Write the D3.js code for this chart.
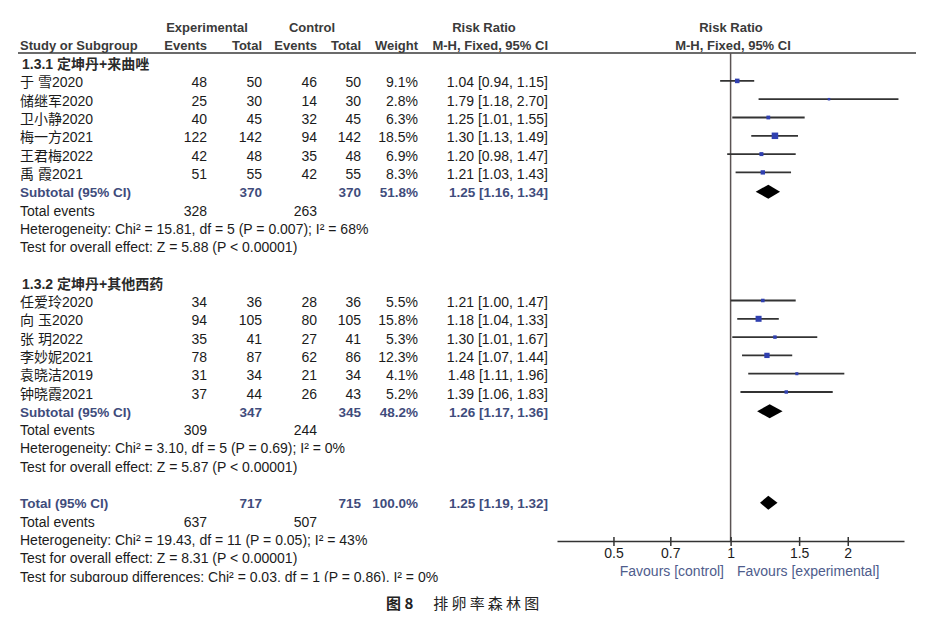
<!DOCTYPE html>
<html>
<head>
<meta charset="utf-8">
<script src="https://cdn.jsdelivr.net/npm/d3@7"></script>
<style>
  body { margin: 0; background: #fff; }
  svg { display: block; font-family: "Liberation Sans", Arial, "Noto Sans CJK SC", sans-serif; }
</style>
</head>
<body>
<div id="vis"></div>
<script>
const FRAME_WIDTH = 928;
const FRAME_HEIGHT = 622;

// group 1: 定坤丹+来曲唑
const G1_NAMES = ["于 雪2020", "储继军2020", "卫小静2020", "梅一方2021", "王君梅2022", "禹 霞2021"];
const G1_EXP_EVENTS = [48, 25, 40, 122, 42, 51];
const G1_EXP_TOTAL = [50, 30, 45, 142, 48, 55];
const G1_CTL_EVENTS = [46, 14, 32, 94, 35, 42];
const G1_CTL_TOTAL = [50, 30, 45, 142, 48, 55];
const G1_WEIGHT = [9.1, 2.8, 6.3, 18.5, 6.9, 8.3];
const G1_RR = [1.04, 1.79, 1.25, 1.30, 1.20, 1.21];
const G1_LO = [0.94, 1.18, 1.01, 1.13, 0.98, 1.03];
const G1_HI = [1.15, 2.70, 1.55, 1.49, 1.47, 1.43];

// group 2: 定坤丹+其他西药
const G2_NAMES = ["任爱玲2020", "向 玉2020", "张 玥2022", "李妙妮2021", "袁晓洁2019", "钟晓霞2021"];
const G2_EXP_EVENTS = [34, 94, 35, 78, 31, 37];
const G2_EXP_TOTAL = [36, 105, 41, 87, 34, 44];
const G2_CTL_EVENTS = [28, 80, 27, 62, 21, 26];
const G2_CTL_TOTAL = [36, 105, 41, 86, 34, 43];
const G2_WEIGHT = [5.5, 15.8, 5.3, 12.3, 4.1, 5.2];
const G2_RR = [1.21, 1.18, 1.30, 1.24, 1.48, 1.39];
const G2_LO = [1.00, 1.04, 1.01, 1.07, 1.11, 1.06];
const G2_HI = [1.47, 1.33, 1.67, 1.44, 1.96, 1.83];

// pooled: subtotal 1, subtotal 2, total
const POOL_LABELS = ["Subtotal (95% CI)", "Subtotal (95% CI)", "Total (95% CI)"];
const POOL_EXP_TOTAL = [370, 347, 717];
const POOL_CTL_TOTAL = [370, 345, 715];
const POOL_WEIGHT = ["51.8%", "48.2%", "100.0%"];
const POOL_RR = [1.25, 1.26, 1.25];
const POOL_LO = [1.16, 1.17, 1.19];
const POOL_HI = [1.34, 1.36, 1.32];
const POOL_EXP_EVENTS = [328, 309, 637];
const POOL_CTL_EVENTS = [263, 244, 507];

const HET_TEXT = [
  "Heterogeneity: Chi² = 15.81, df = 5 (P = 0.007); I² = 68%",
  "Heterogeneity: Chi² = 3.10, df = 5 (P = 0.69); I² = 0%",
  "Heterogeneity: Chi² = 19.43, df = 11 (P = 0.05); I² = 43%"
];
const EFFECT_TEXT = [
  "Test for overall effect: Z = 5.88 (P < 0.00001)",
  "Test for overall effect: Z = 5.87 (P < 0.00001)",
  "Test for overall effect: Z = 8.31 (P < 0.00001)"
];
const SUBGROUP_TEXT = "Test for subgroup differences: Chi² = 0.03, df = 1 (P = 0.86), I² = 0%";
const GROUP_TITLES = ["1.3.1 定坤丹+来曲唑", "1.3.2 定坤丹+其他西药"];
const TICKS = [0.5, 0.7, 1, 1.5, 2];

const COL = {name: 20, expE: 207, expT: 262, ctlE: 317, ctlT: 361, wt: 418, ci: 548};
const C_TEXT = "#1b1b1b", C_HEAD = "#3a3a3a", C_BLUE = "#3f4c7c", C_SQ = "#3040b0";

const FRAME = d3.select("#vis").append("svg")
    .attr("width", FRAME_WIDTH)
    .attr("height", FRAME_HEIGHT);

// row -> y
const Y = d3.scaleLinear().domain([0, 30]).range([27.5, 576.5]);
// risk ratio -> x
const X = d3.scaleLog().domain([0.358, 2.79]).range([557, 904]);
const SQ = d3.scaleSqrt().domain([0, 18.5]).range([0, 6.5]);

const ciStr = (r, l, h) => r.toFixed(2) + " [" + l.toFixed(2) + ", " + h.toFixed(2) + "]";

function txt(x, row, s, opts) {
  opts = opts || {};
  return FRAME.append("text")
    .attr("x", x).attr("y", Y(row)).attr("dy", "0.36em")
    .attr("text-anchor", opts.anchor || "start")
    .attr("font-size", opts.size || 14)
    .attr("font-weight", opts.bold ? "bold" : "normal")
    .attr("fill", opts.color || C_TEXT)
    .text(s);
}

// header
const H = {bold: true, color: C_HEAD, size: 13};
txt(207, 0, "Experimental", Object.assign({anchor: "middle"}, H));
txt(312, 0, "Control", Object.assign({anchor: "middle"}, H));
txt(484, 0, "Risk Ratio", Object.assign({anchor: "middle"}, H));
txt(731, 0, "Risk Ratio", Object.assign({anchor: "middle"}, H));
txt(COL.name, 1, "Study or Subgroup", H);
txt(COL.expE, 1, "Events", Object.assign({anchor: "end"}, H));
txt(COL.expT, 1, "Total", Object.assign({anchor: "end"}, H));
txt(COL.ctlE, 1, "Events", Object.assign({anchor: "end"}, H));
txt(COL.ctlT, 1, "Total", Object.assign({anchor: "end"}, H));
txt(COL.wt, 1, "Weight", Object.assign({anchor: "end"}, H));
txt(COL.ci, 1, "M-H, Fixed, 95% CI", Object.assign({anchor: "end"}, H));
txt(733, 1, "M-H, Fixed, 95% CI", Object.assign({anchor: "middle"}, H));

FRAME.append("line")
  .attr("x1", 18).attr("x2", 916).attr("y1", 53).attr("y2", 53)
  .attr("stroke", "#3a3a3a").attr("stroke-width", 1.5);

// line of no effect
FRAME.append("line")
  .attr("x1", X(1)).attr("x2", X(1)).attr("y1", 53).attr("y2", 541)
  .attr("stroke", "#5b5353").attr("stroke-width", 1.5);

const groups = [
  {start: 2, names: G1_NAMES, ee: G1_EXP_EVENTS, et: G1_EXP_TOTAL, ce: G1_CTL_EVENTS, ct: G1_CTL_TOTAL,
   w: G1_WEIGHT, rr: G1_RR, lo: G1_LO, hi: G1_HI},
  {start: 14, names: G2_NAMES, ee: G2_EXP_EVENTS, et: G2_EXP_TOTAL, ce: G2_CTL_EVENTS, ct: G2_CTL_TOTAL,
   w: G2_WEIGHT, rr: G2_RR, lo: G2_LO, hi: G2_HI}
];

function pooledRow(k, row) {
  const o = {bold: true, color: C_BLUE, size: 13.5};
  txt(COL.name, row, POOL_LABELS[k], o);
  txt(COL.expT, row, POOL_EXP_TOTAL[k], Object.assign({anchor: "end"}, o));
  txt(COL.ctlT, row, POOL_CTL_TOTAL[k], Object.assign({anchor: "end"}, o));
  txt(COL.wt, row, POOL_WEIGHT[k], Object.assign({anchor: "end"}, o));
  txt(COL.ci, row, ciStr(POOL_RR[k], POOL_LO[k], POOL_HI[k]), Object.assign({anchor: "end"}, o));
  const cy = Y(row) - 0.5;
  FRAME.append("path")
    .attr("d", "M" + X(POOL_LO[k]) + "," + cy + "L" + X(POOL_RR[k]) + "," + (cy - 7) +
               "L" + X(POOL_HI[k]) + "," + cy + "L" + X(POOL_RR[k]) + "," + (cy + 7) + "Z")
    .attr("fill", "#000");
  txt(COL.name, row + 1, "Total events");
  txt(COL.expE, row + 1, POOL_EXP_EVENTS[k], {anchor: "end"});
  txt(COL.ctlE, row + 1, POOL_CTL_EVENTS[k], {anchor: "end"});
  txt(COL.name, row + 2, HET_TEXT[k]);
  txt(COL.name, row + 3, EFFECT_TEXT[k]);
}

groups.forEach((g, gi) => {
  txt(22, g.start, GROUP_TITLES[gi], {bold: true, color: "#2a2a2a"});
  const rows = g.names.map((n, i) => ({
    row: g.start + 1 + i, name: n, ee: g.ee[i], et: g.et[i], ce: g.ce[i], ct: g.ct[i],
    w: g.w[i], rr: g.rr[i], lo: g.lo[i], hi: g.hi[i]
  }));
  rows.forEach((d) => {
    txt(COL.name, d.row, d.name);
    txt(COL.expE, d.row, d.ee, {anchor: "end"});
    txt(COL.expT, d.row, d.et, {anchor: "end"});
    txt(COL.ctlE, d.row, d.ce, {anchor: "end"});
    txt(COL.ctlT, d.row, d.ct, {anchor: "end"});
    txt(COL.wt, d.row, d.w.toFixed(1) + "%", {anchor: "end"});
    txt(COL.ci, d.row, ciStr(d.rr, d.lo, d.hi), {anchor: "end"});
  });
  FRAME.selectAll(null).data(rows).enter().append("line")
    .attr("x1", (d) => X(d.lo)).attr("x2", (d) => X(d.hi))
    .attr("y1", (d) => Y(d.row) - 1.5).attr("y2", (d) => Y(d.row) - 1.5)
    .attr("stroke", "#333").attr("stroke-width", 1.8);
  FRAME.selectAll(null).data(rows).enter().append("rect")
    .attr("x", (d) => X(d.rr) - SQ(d.w) / 2)
    .attr("y", (d) => Y(d.row) - 1.5 - SQ(d.w) / 2)
    .attr("width", (d) => SQ(d.w)).attr("height", (d) => SQ(d.w))
    .attr("fill", C_SQ);
  pooledRow(gi, g.start + 7);
});

// overall
pooledRow(2, 26);
txt(COL.name, 30, SUBGROUP_TEXT);

// clipped bottom edge of the original figure
FRAME.append("rect").attr("x", 0).attr("y", 582).attr("width", FRAME_WIDTH).attr("height", 10)
  .attr("fill", "#fff");

// axis
const axis = FRAME.append("g")
  .attr("transform", "translate(0,541)")
  .call(d3.axisBottom(X).tickValues(TICKS).tickFormat(d3.format("")).tickSizeInner(4).tickSizeOuter(0));
axis.select(".domain").attr("stroke", "#333").attr("stroke-width", 1.5);
axis.selectAll(".tick line").attr("y1", -4).attr("y2", 5).attr("stroke", "#333").attr("stroke-width", 1.5);
axis.selectAll(".tick text").attr("font-size", 14).attr("fill", C_TEXT)
  .attr("font-family", "'Liberation Sans', Arial, sans-serif").attr("y", 7);

txt(724, 29.7, "Favours [control]", {anchor: "end", color: "#4e5c8c"});
txt(737, 29.7, "Favours [experimental]", {color: "#4e5c8c"});

// caption
FRAME.append("text")
  .attr("x", 386).attr("y", 609)
  .attr("font-family", "'Noto Sans CJK SC', sans-serif")
  .attr("font-size", 15).attr("fill", "#222")
  .call((t) => {
    t.append("tspan").attr("font-weight", "bold").text("图 8");
    t.append("tspan").attr("dx", 20).attr("letter-spacing", 3.2).text("排卵率森林图");
  });
</script>
</body>
</html>
